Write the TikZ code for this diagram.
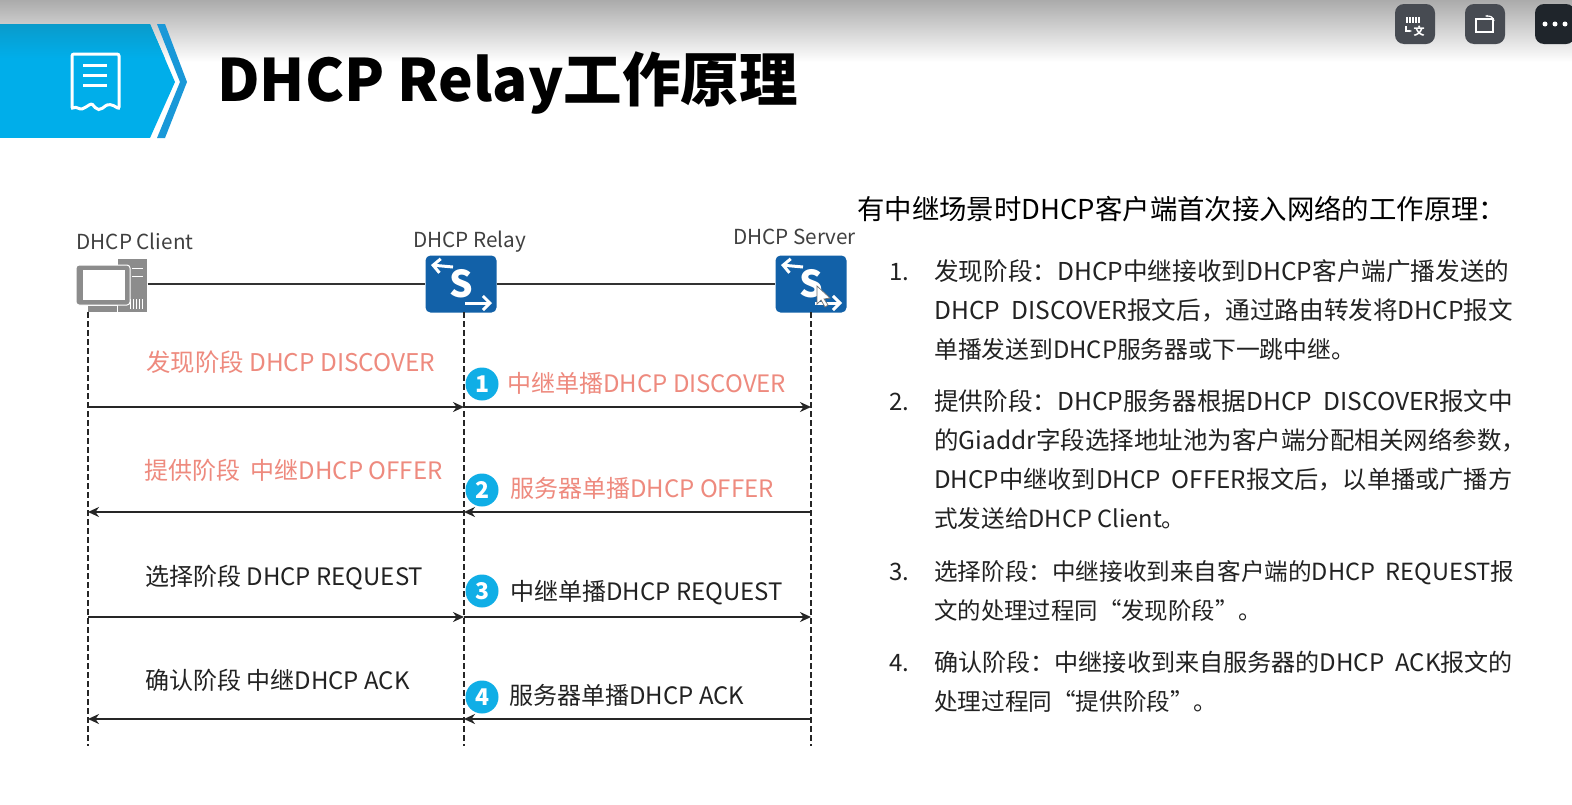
\documentclass[tikz,border=0pt]{standalone}
\usepackage{fontspec}
\setmainfont{Noto Sans CJK SC}
\usepackage{xcolor}
\usetikzlibrary{positioning, arrows.meta, calc}
\definecolor{bandblue}{HTML}{00AEEA}
\definecolor{banddark}{HTML}{0A9BCB}
\definecolor{chevblue}{HTML}{1A98D8}
\definecolor{swblue}{HTML}{1261A8}
\definecolor{msgpink}{HTML}{EE8A7E}
\definecolor{stepblue}{HTML}{10AEE6}
\definecolor{pcgray}{HTML}{8C8C8C}
\definecolor{btngray}{HTML}{474B52}
\definecolor{btndark}{HTML}{1F252B}
\definecolor{inktext}{HTML}{222222}
\tikzset{
    txt/.style={anchor=west, inner sep=0pt, text height=8pt, text depth=2pt, text=inktext},
    endname/.style={inner sep=0pt, text=black!75, font=\fontsize{20.7}{24}\selectfont},
    msgred/.style={txt, text=msgpink, font=\fontsize{24}{28}\selectfont},
    msgblack/.style={txt, font=\fontsize{24}{28}\selectfont},
    bodyline/.style={txt},
    swbox/.style={fill=swblue, rounded corners=5pt, minimum width=71pt, minimum height=57pt,
        inner sep=0pt, text=white, font=\fontsize{37}{37}\selectfont\bfseries},
    stepnum/.style={circle, fill=stepblue, minimum size=33pt, inner sep=0pt, text=white,
        font=\fontsize{23}{23}\selectfont\bfseries},
    lifeline/.style={line width=2.4pt, dash pattern=on 6pt off 3pt, black!85},
    msgarrow/.style={line width=2.4pt, black!85, -{Stealth[length=11pt,width=10pt]}},
    swarrow/.style={white, line width=3pt, -{Straight Barb[length=7pt,width=14pt]}},
    btn/.style={rounded corners=9pt, minimum size=40pt, inner sep=0pt},
}
\begin{document}
\begin{tikzpicture}[x=1pt,y=-1pt]
    \clip (0,0) rectangle (1572,804);
    \useasboundingbox (0,0) rectangle (1572,804);

    % Top band
    \fill[white] (0,0) rectangle (1572,804);
    \shade[top color=black!33, bottom color=white] (0,0) rectangle (1572,62);

    % Title banner
    \begin{scope}
        \clip (0,24) -- (150,24) -- (175,82) -- (150,138) -- (0,138) -- cycle;
        \fill[bandblue] (0,24) rectangle (180,138);
        \shade[top color=banddark, bottom color=bandblue] (0,24) rectangle (180,58);
    \end{scope}
    \fill[chevblue] (157,24) -- (165,24) -- (187,82) -- (165,138) -- (157,138) -- (180,82) -- cycle;
    \draw[white, line width=3pt, rounded corners=2pt] (72,54) -- (119,54) -- (119,109)
        .. controls (112,104) and (108,104) .. (104,107)
        .. controls (100,110) and (97,110) .. (94,106)
        .. controls (91,103) and (88,106) .. (84,108)
        .. controls (80,110) and (76,106) .. (72,109) -- cycle;
    \foreach \y in {65,75,85} {
        \draw[white, line width=3pt] (83,\y) -- (107,\y);
    }
    \node[txt, text=black, font=\fontsize{58.5}{64}\selectfont\bfseries] (title) at (217,98) {DHCP Relay工作原理};

    % Window buttons
    \node[btn, fill=btngray] (btnvoice) at (1415,24) {};
    \node[btn, fill=btngray] (btnrotate) at (1485,24) {};
    \node[btn, fill=btndark] (btnmore) at (1555,24) {};
    \foreach \x in {-8,-5,-2,1,4} {
        \draw[white, line width=1.2pt] ($(btnvoice)+(\x,-7)$) -- ($(btnvoice)+(\x,-1)$);
    }
    \node[inner sep=0pt, text=white, font=\fontsize{11}{11}\selectfont\bfseries] (btnvoicetxt) at ($(btnvoice)+(4,7)$) {文};
    \draw[white, line width=1.2pt, -{Stealth[length=3pt]}] ($(btnvoice)+(-9,2)$) -- ($(btnvoice)+(-9,7)$) -- ($(btnvoice)+(-3,7)$);
    \draw[white, line width=1.4pt] ($(btnrotate)+(-9,-5)$) rectangle ($(btnrotate)+(8,8)$);
    \draw[white, line width=1.2pt, -{Stealth[length=3pt]}] ($(btnrotate)+(9,-3)$) .. controls ($(btnrotate)+(8,-7)$) and ($(btnrotate)+(6,-8)$) .. ($(btnrotate)+(0,-8)$);
    \foreach \x in {-10,0,10} {
        \fill[white] ($(btnmore)+(\x,0)$) circle (2.5pt);
    }

    % End points
    \node[endname] (clientname) at (135,241) {DHCP Client};
    \node[endname] (relayname) at (469.5,242) {DHCP Relay};
    \node[endname] (servername) at (794.5,236.5) {DHCP Server};

    % Computer
    \node[minimum width=71pt, minimum height=54pt, inner sep=0pt] (client) at (112,284) {};
    \fill[pcgray] (118,259) rectangle (147,312);
    \draw[white, line width=1pt] (132,268) -- (143,268) (132,276) -- (143,276);
    \foreach \x in {130,133,136,139,142} {
        \draw[white, line width=.8pt] (\x,299) -- (\x,309);
    }
    \fill[pcgray, draw=white, line width=1pt, rounded corners=3pt] (76,265) rectangle (130,305);
    \fill[white] (83,270) rectangle (125,300);
    \fill[pcgray] (88,306) rectangle (117,312);

    % Switches
    \node[swbox] (relay) at (461,284) {S};
    \node[swbox] (server) at (811,284) {S};
    \foreach \n in {relay,server} {
        \draw[swarrow] ($(\n)+(-8,-17)$) -- ($(\n)+(-30,-19)$);
        \draw[swarrow] ($(\n)+(4,19)$) -- ($(\n)+(31,19)$);
    }
    \draw[line width=2.4pt, black!80] (client.east) -- (relay.west);
    \draw[line width=2.4pt, black!80] (relay.east) -- (server.west);

    % Cursor
    \fill[white, draw=black!55, line width=.7pt] (817,286) -- (817,304) -- (821,300) -- (825,307) -- (828,305) -- (824,299) -- (830,298) -- cycle;

    % Lifelines
    \coordinate (clienttop) at (88,312);
    \coordinate (clientend) at (88,746);
    \coordinate (relaytop) at (464,312);
    \coordinate (relayend) at (464,746);
    \coordinate (servertop) at (811,312);
    \coordinate (serverend) at (811,746);
    \draw[lifeline] (clienttop) -- (clientend);
    \draw[lifeline] (relaytop) -- (relayend);
    \draw[lifeline] (servertop) -- (serverend);

    % Messages
    \foreach \i/\y in {1/407,2/512,3/617,4/719} {
        \coordinate (c\i) at (clienttop |- 0,\y);
        \coordinate (r\i) at (relaytop |- 0,\y);
        \coordinate (s\i) at (servertop |- 0,\y);
    }
    \draw[msgarrow] (c1) -- (r1);
    \draw[msgarrow] (r1) -- (s1);
    \draw[msgarrow] (r2) -- (c2);
    \draw[msgarrow] (s2) -- (r2);
    \draw[msgarrow] (c3) -- (r3);
    \draw[msgarrow] (r3) -- (s3);
    \draw[msgarrow] (r4) -- (c4);
    \draw[msgarrow] (s4) -- (r4);

    \node[msgred, font=\fontsize{24.4}{28}\selectfont] (m1a) at (146,368) {发现阶段 DHCP DISCOVER};
    \node[msgred] (m1b) at (507,389) {中继单播DHCP DISCOVER};
    \node[msgred] (m2a) at (144,476) {提供阶段\ \ 中继DHCP OFFER};
    \node[msgred] (m2b) at (510,494) {服务器单播DHCP OFFER};
    \node[msgblack] (m3a) at (145,582) {选择阶段 DHCP REQUEST};
    \node[msgblack] (m3b) at (510,597) {中继单播DHCP REQUEST};
    \node[msgblack] (m4a) at (145,686) {确认阶段 中继DHCP ACK};
    \node[msgblack] (m4b) at (509,701) {服务器单播DHCP ACK};

    % Step circles
    \foreach \i/\y in {1/384,2/490,3/591,4/697} {
        \node[stepnum] (step\i) at (482,\y) {\i};
    }

    % Right column
    \node[txt, text=black, font=\fontsize{27.4}{30}\selectfont] (heading) at (857,216) {有中继场景时DHCP客户端首次接入网络的工作原理：};
    \foreach \i/\y in {1/277,2/407,3/577,4/668} {
        \node[bodyline, font=\fontsize{24}{28}\selectfont] (num\i) at (889,\y) {\i.};
    }
    \foreach \n/\y/\s/\t in {
        a/277/24.6/发现阶段：DHCP中继接收到DHCP客户端广播发送的,
        b/316/24.6/DHCP\ \ DISCOVER报文后，通过路由转发将DHCP报文,
        c/355/23.8/单播发送到DHCP服务器或下一跳中继。,
        d/407/24.6/提供阶段：DHCP服务器根据DHCP\ \ DISCOVER报文中,
        e/446/24.5/的Giaddr字段选择地址池为客户端分配相关网络参数，,
        f/485/24.2/DHCP中继收到DHCP\ \ OFFER报文后，以单播或广播方,
        g/524/23.6/式发送给DHCP Client。,
        h/577/23.6/选择阶段：中继接收到来自客户端的DHCP\ \ REQUEST报,
        i/616/23.4/文的处理过程同“发现阶段”。,
        j/668/24.1/确认阶段：中继接收到来自服务器的DHCP\ \ ACK报文的,
        k/707/23.6/处理过程同“提供阶段”。} {
        \node[bodyline, font=\fontsize{\s}{28}\selectfont] (line\n) at (934,\y) {\t};
    }
\end{tikzpicture}
\end{document}
